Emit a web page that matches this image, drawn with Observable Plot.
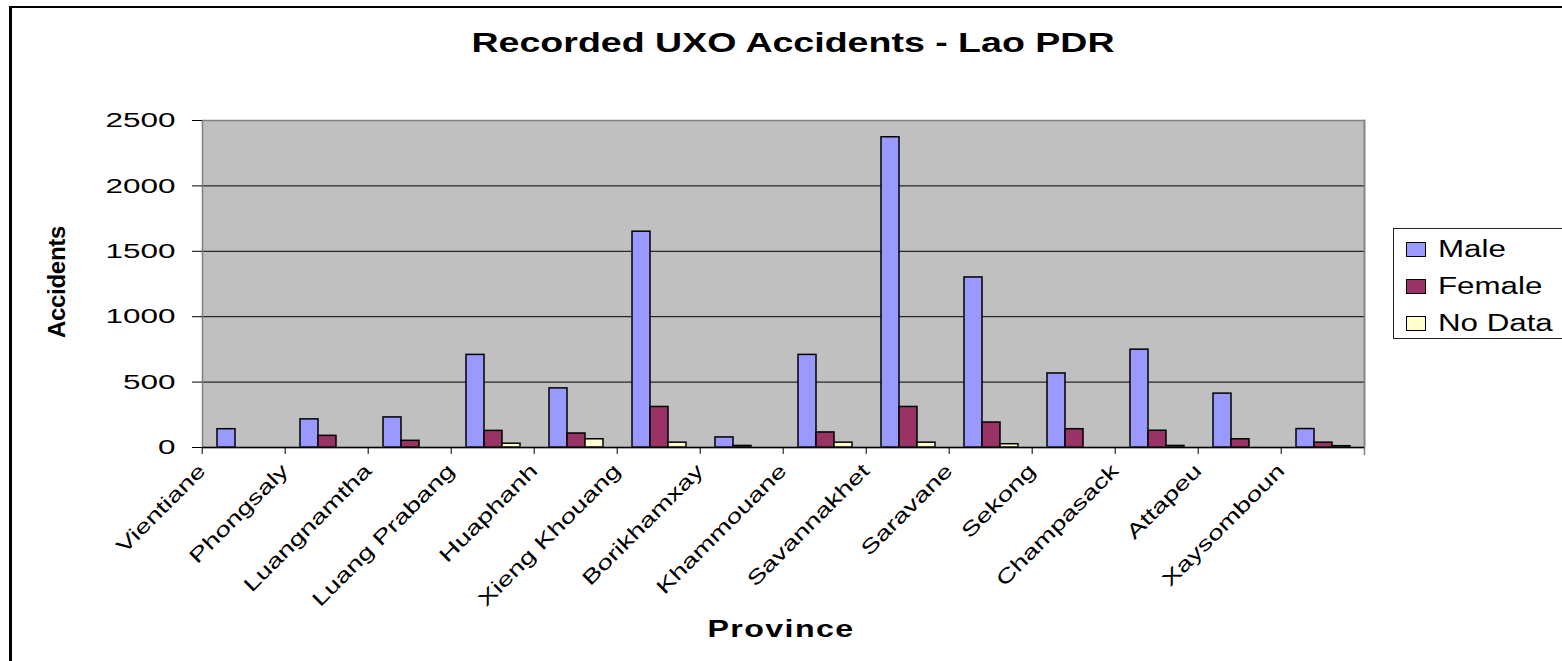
<!DOCTYPE html>
<html>
<head>
<meta charset="utf-8">
<script src="https://cdn.jsdelivr.net/npm/d3@7"></script>
<script src="https://cdn.jsdelivr.net/npm/@observablehq/plot@0.6"></script>
<style>
  html, body { margin: 0; padding: 0; background: #fff; }
  #page { position: relative; width: 1562px; height: 661px; overflow: hidden;
          font-family: "Liberation Sans", Arial, sans-serif; color: #000; background: #fff; }
  #page svg { position: absolute; left: 0; top: 0; }
  .outer { position: absolute; left: 9px; top: 6px; width: 1700px; height: 800px;
           border-left: 3px solid #000; border-top: 2px solid #000; box-sizing: border-box; }
  .title { position: absolute; left: 793px; top: 30px; font-size: 27px; line-height: 27px;
           font-weight: bold; white-space: nowrap; transform: translateX(-50%) scaleX(1.39); }
  .xtitle { position: absolute; left: 781px; top: 618px; font-size: 23px; line-height: 23px;
            font-weight: bold; letter-spacing: 1px; white-space: nowrap; transform: translateX(-50%) scaleX(1.4); }
  .ytitle { position: absolute; left: 57px; top: 282px; font-size: 24px; line-height: 24px;
            font-weight: bold; letter-spacing: -0.3px; white-space: nowrap;
            transform: translate(-50%, -50%) rotate(-90deg); }
  .legend { position: absolute; left: 1393px; top: 228px; width: 190px; height: 111px;
            border: 1px solid #222; box-sizing: border-box; background: #fff; }
  .item { position: absolute; left: 0; height: 24px; width: 190px; }
  .sw { position: absolute; left: 12px; top: 5px; width: 20px; height: 15px; box-sizing: border-box;
        border: 1.5px solid #000; }
  .lab { position: absolute; left: 44px; top: 0px; font-size: 23px; line-height: 24px; white-space: nowrap;
         transform-origin: 0 50%; transform: scaleX(1.36); }
</style>
</head>
<body>
<div id="page"></div>
<script>
// ---------- data ----------
const provinces = ["Vientiane", "Phongsaly", "Luangnamtha", "Luang Prabang", "Huaphanh",
  "Xieng Khouang", "Borikhamxay", "Khammouane", "Savannakhet", "Saravane", "Sekong",
  "Champasack", "Attapeu", "Xaysomboun"];
const seriesNames = ["Male", "Female", "No Data"];
const seriesColors = ["#9999FF", "#993366", "#FFFFCC"];
const male   = [140, 215, 230, 708, 452, 1650, 77, 708, 2372, 1300, 566, 748, 412, 141];
const female = [0, 89, 51, 127, 107, 310, 12, 115, 310, 191, 140, 128, 63, 37];
const noData = [0, 0, 0, 29, 63, 37, 0, 37, 37, 25, 0, 12, 0, 10];
const yTicks = [0, 500, 1000, 1500, 2000, 2500];
const gridValues = [500, 1000, 1500, 2000];
const titleText = "Recorded UXO Accidents - Lao PDR";
const xTitle = "Province";
const yTitle = "Accidents";

// ---------- table ----------
const seriesValues = [male, female, noData];
const rows = provinces.flatMap((p, i) =>
  seriesNames.map((s, k) => ({province: p, series: s, value: seriesValues[k][i]})));

// ---------- layout ----------
const W = 1562, H = 661;
const mL = 197, mR = 194, mT = 120, mB = 214;
const step = (W - mL - mR) / provinces.length;

const chart = Plot.plot({
  width: W, height: H,
  marginLeft: mL, marginRight: mR, marginTop: mT, marginBottom: mB,
  style: {fontFamily: "'Liberation Sans', Arial, sans-serif", background: "transparent", overflow: "visible", color: "#000"},
  fx: {domain: provinces, padding: 0, label: null},
  x: {domain: seriesNames, paddingInner: 0, paddingOuter: 0.78, axis: null},
  y: {domain: [0, 2500], label: null},
  color: {domain: seriesNames, range: seriesColors},
  marks: [
    Plot.frame({facet: "super", fill: "#C0C0C0", stroke: "none"}),
    Plot.ruleY(gridValues, {stroke: "#000", strokeWidth: 1}),
    Plot.barY(rows, {fx: "province", x: "series", y: "value", fill: "series",
      stroke: "#000", strokeWidth: 1.5, filter: d => d.value > 0}),
    Plot.frame({facet: "super", stroke: "#808080", strokeWidth: 1.5}),
    Plot.frame({facet: "super", anchor: "right", insetBottom: -7, stroke: "#808080", strokeWidth: 1.5}),
    Plot.ruleY([0], {stroke: "#000", strokeWidth: 1.5}),
    Plot.axisY({ticks: yTicks, tickFormat: "d", tickSize: 10, tickPadding: 17, fontSize: 21, label: null}),
    Plot.axisFx({anchor: "bottom", tickRotate: -45, tickSize: 7, tickPadding: 13, fontSize: 20,
      dx: -step / 2, label: null})
  ]
});

// horizontally widen the text glyphs (the reference renders wide glyphs)
function widen(root, selector, k) {
  root.querySelectorAll(selector).forEach(t => {
    const tr = t.getAttribute("transform");
    if (tr) {
      t.setAttribute("transform", tr + ` scale(${k},1)`);
    } else {
      const x = +t.getAttribute("x") || 0;
      t.removeAttribute("x");
      t.setAttribute("transform", `translate(${x},0) scale(${k},1)`);
    }
  });
}
widen(chart, 'g[aria-label="y-axis tick label"] text', 1.5);
widen(chart, 'g[aria-label="fx-axis tick label"] text', 1.4);

const page = document.getElementById("page");
page.appendChild(chart);

// ---------- decorations & text ----------
const outer = document.createElement("div"); outer.className = "outer"; page.appendChild(outer);
const t = document.createElement("div"); t.className = "title"; t.textContent = titleText; page.appendChild(t);
const xt = document.createElement("div"); xt.className = "xtitle"; xt.textContent = xTitle; page.appendChild(xt);
const yt = document.createElement("div"); yt.className = "ytitle"; yt.textContent = yTitle; page.appendChild(yt);

const legend = document.createElement("div"); legend.className = "legend"; page.appendChild(legend);
seriesNames.forEach((s, k) => {
  const it = document.createElement("div"); it.className = "item";
  it.style.top = (8 + 37 * k) + "px";
  const sw = document.createElement("div"); sw.className = "sw"; sw.style.background = seriesColors[k];
  const lb = document.createElement("div"); lb.className = "lab"; lb.textContent = s;
  it.appendChild(sw); it.appendChild(lb); legend.appendChild(it);
});
</script>
</body>
</html>
